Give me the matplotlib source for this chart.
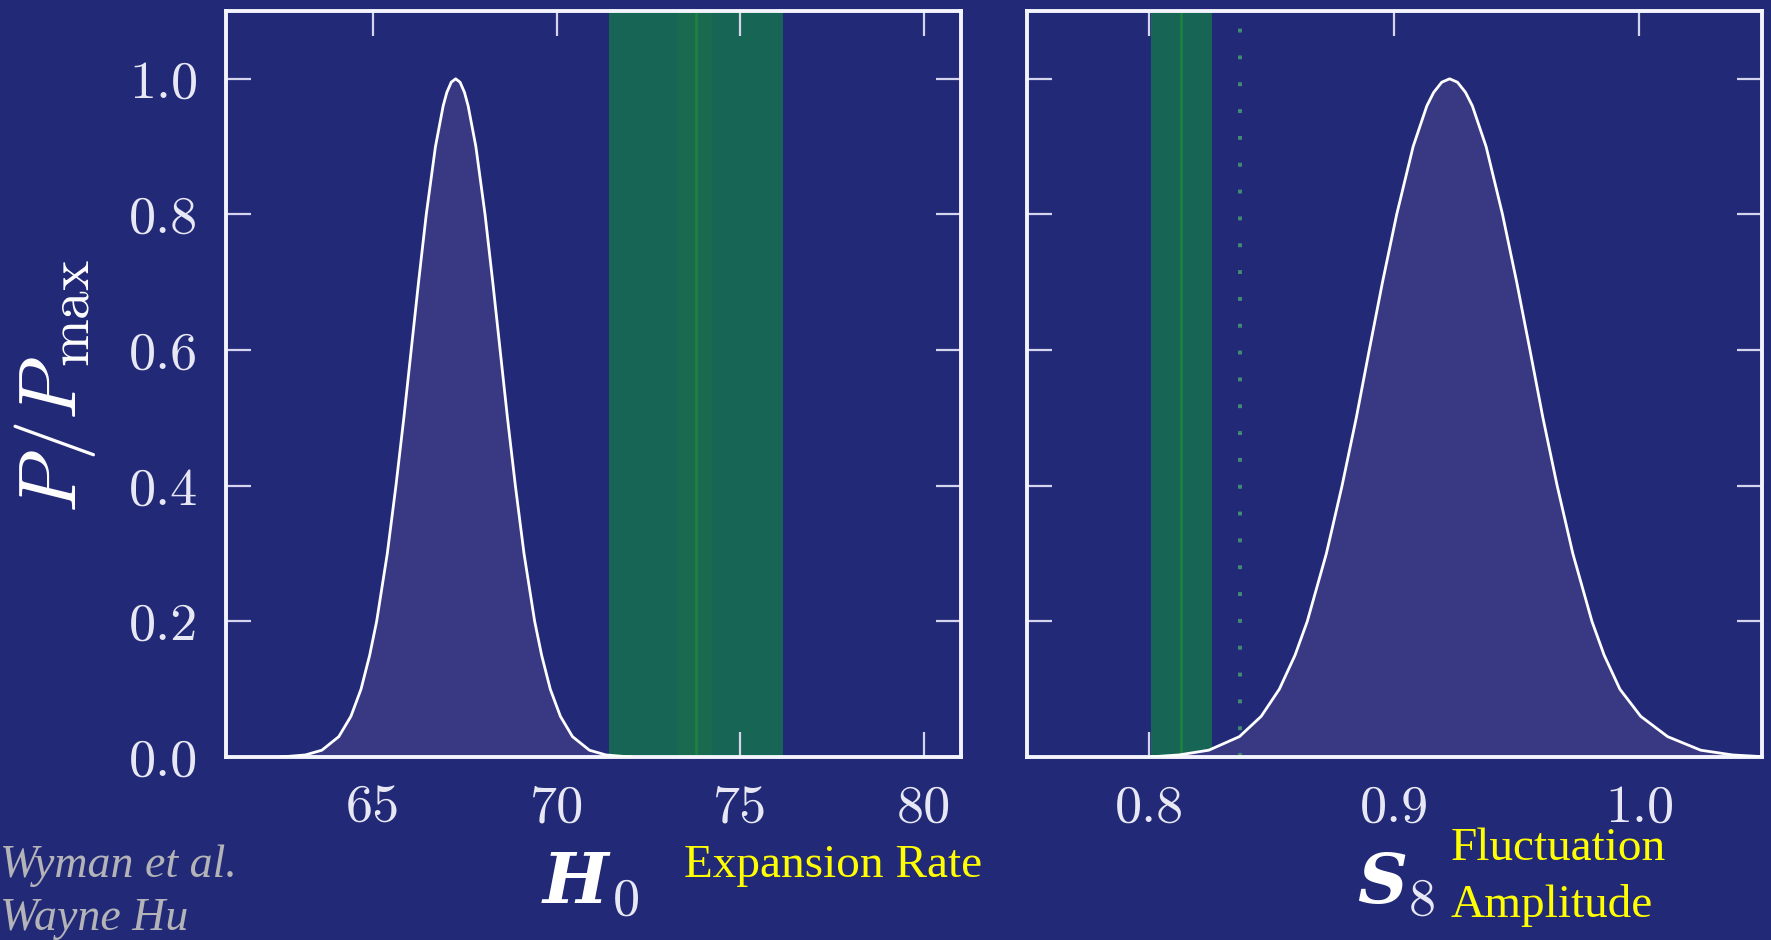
import matplotlib
matplotlib.use("Agg")
import matplotlib.pyplot as plt

# posterior curves (P / P_max)
h0_x = [62.5, 63.16, 63.61, 64.07, 64.40, 64.675, 64.91, 65.10, 65.39, 65.625, 65.84,
        66.04, 66.24, 66.45, 66.70, 66.91, 67.01, 67.13, 67.25, 67.37, 67.49, 67.59,
        67.80, 68.05, 68.26, 68.46, 68.66, 68.875, 69.11, 69.40, 69.59, 69.825,
        70.10, 70.43, 70.89, 71.34, 72.0]
h0_p = [0.0, 0.003, 0.01, 0.03, 0.06, 0.10, 0.15, 0.20, 0.30, 0.40, 0.50,
        0.60, 0.70, 0.80, 0.90, 0.96, 0.98, 0.995, 1.0, 0.995, 0.98, 0.96,
        0.90, 0.80, 0.70, 0.60, 0.50, 0.40, 0.30, 0.20, 0.15, 0.10,
        0.06, 0.03, 0.01, 0.003, 0.0]

s8_x = [0.800, 0.8120, 0.8242, 0.8367, 0.8456, 0.8530, 0.8594, 0.8644, 0.8722, 0.8786,
        0.8844, 0.8897, 0.8951, 0.9009, 0.9076, 0.9132, 0.9160, 0.9193, 0.9225, 0.9257,
        0.9290, 0.9318, 0.9374, 0.9441, 0.9499, 0.9553, 0.9606, 0.9664, 0.9728, 0.9806,
        0.9856, 0.9920, 1.0005, 1.0115, 1.0250, 1.0380, 1.0500]
s8_p = [0.0, 0.003, 0.01, 0.03, 0.06, 0.10, 0.15, 0.20, 0.30, 0.40,
        0.50, 0.60, 0.70, 0.80, 0.90, 0.96, 0.98, 0.995, 1.0, 0.995,
        0.98, 0.96, 0.90, 0.80, 0.70, 0.60, 0.50, 0.40, 0.30, 0.20,
        0.15, 0.10, 0.06, 0.03, 0.01, 0.003, 0.0005]

# local measurements (green bands)
h0_band = (71.43, 76.16)
h0_inner = (73.31, 74.22)
h0_line = 73.79
s8_band = (0.8005, 0.8257)
s8_line = 0.8127
s8_dotted = 0.837

h0_ticks = [65, 70, 75, 80]
s8_ticks = [0.8, 0.9, 1.0]
y_ticks = [0.0, 0.2, 0.4, 0.6, 0.8, 1.0]

bg = "#222a78"
fill_col = "#383883"
band_col = "#176655"
inner_col = "#1a6a50"
line_col = "#1d8540"
dot_col = "#428c74"

plt.rcParams["mathtext.fontset"] = "cm"

W, H = 1771, 940
fig = plt.figure(figsize=(W / 100, H / 100), dpi=100, facecolor=bg)
ax1 = fig.add_axes([0.1276, 0.1947, 0.4150, 0.7936], facecolor=bg)
ax2 = fig.add_axes([0.5799, 0.1947, 0.4150, 0.7936], facecolor=bg)


def style(ax, xticks, xlabels, ylabels):
    ax.set_ylim(0, 1.1)
    ax.set_xticks(xticks)
    ax.set_xticklabels(xlabels, fontfamily="cmr10", fontsize=39)
    ax.set_yticks(y_ticks)
    if ylabels:
        ax.set_yticklabels(["%.1f" % v for v in y_ticks], fontfamily="cmr10", fontsize=39)
    else:
        ax.set_yticklabels([])
    ax.tick_params(direction="in", length=18, width=1.6, colors="#d4d4ee",
                   top=True, right=True, pad=20)
    ax.tick_params(labelcolor="#e8e8f4")
    for sp in ax.spines.values():
        sp.set_color("#f4f4ff")
        sp.set_linewidth(2.8)


def axis_name(x_px, letter, sub, sub_dx):
    # bold italic letter with an upright subscript, placed in pixel units
    fig.text(x_px / W, (H - 903) / H, letter, fontfamily="DejaVu Serif",
             fontweight="bold", style="italic", fontsize=50, color="white",
             ha="left", va="baseline")
    fig.text((x_px + sub_dx) / W, (H - 915) / H, sub, fontfamily="cmr10",
             fontsize=39, color="#e8e8f4", ha="left", va="baseline")


# H0 panel
ax1.axvspan(*h0_band, color=band_col, lw=0, zorder=1)
ax1.axvspan(*h0_inner, color=inner_col, lw=0, zorder=1)
ax1.axvline(h0_line, color=line_col, lw=1.8, zorder=1)
ax1.fill_between(h0_x, h0_p, 0, color=fill_col, lw=0, zorder=2)
ax1.plot(h0_x, h0_p, color="white", lw=2.0, zorder=3, solid_joinstyle="round")
ax1.set_xlim(61, 81)
style(ax1, h0_ticks, [str(t) for t in h0_ticks], True)
ax1.set_ylabel(r"$P/P_{\rm max}$", fontsize=59, color="white")
ax1.yaxis.set_label_coords(-0.174, 0.497)
axis_name(543, "H", "0", 70)

# S8 panel
ax2.axvspan(*s8_band, color=band_col, lw=0, zorder=1)
ax2.axvline(s8_line, color=line_col, lw=1.8, zorder=1)
ax2.fill_between(s8_x, s8_p, 0, color=fill_col, lw=0, zorder=2)
ax2.axvline(s8_dotted, color=dot_col, lw=2.8, ls=(0, (1.0, 5.9)), zorder=2.5)
ax2.plot(s8_x, s8_p, color="white", lw=2.0, zorder=3, solid_joinstyle="round")
ax2.set_xlim(0.75, 1.05)
style(ax2, s8_ticks, ["%.1f" % t for t in s8_ticks], False)
axis_name(1357, "S", "8", 52)

# annotations
fig.text(0.3862, 0.067, "Expansion Rate", fontfamily="Liberation Serif",
         fontsize=34, color="#ffff00", va="baseline")
fig.text(0.8193, 0.0851, "Fluctuation", fontfamily="Liberation Serif",
         fontsize=34, color="#ffff00", va="baseline")
fig.text(0.8193, 0.0245, "Amplitude", fontfamily="Liberation Serif",
         fontsize=34, color="#ffff00", va="baseline")
fig.text(0.0, 0.067, "Wyman et al.", fontfamily="Liberation Serif", style="italic",
         fontsize=33, color="#b4b4b8", va="baseline")
fig.text(0.0, 0.0106, "Wayne Hu", fontfamily="Liberation Serif", style="italic",
         fontsize=33, color="#b4b4b8", va="baseline")

fig.savefig("out.png", dpi=100, facecolor=bg)
